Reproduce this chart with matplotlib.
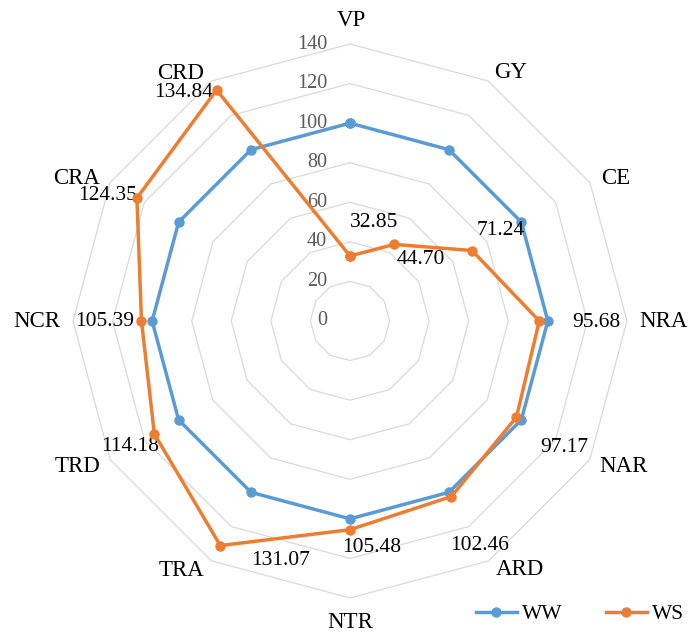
import numpy as np
import matplotlib
matplotlib.use('Agg')
import matplotlib.pyplot as plt

# data
categories = ['VP', 'GY', 'CE', 'NRA', 'NAR', 'ARD', 'NTR', 'TRA', 'TRD', 'NCR', 'CRA', 'CRD']
ww_values = [100, 100, 100, 100, 100, 100, 100, 100, 100, 100, 100, 100]
ws_values = [32.85, 44.70, 71.24, 95.68, 97.17, 102.46, 105.48, 131.07, 114.18, 105.39, 124.35, 134.84]
ring_levels = [20, 40, 60, 80, 100, 120, 140]
radial_ticks = [0, 20, 40, 60, 80, 100, 120, 140]

# label offsets (pixels)
ws_label_offsets = [(24, 33), (27, -15), (29, 20), (57, -2), (48, -30), (28, -49),
                    (22, -18), (60, -15), (-24, -13), (-37, -1), (-29, 2), (-33, -3)]
cat_label_offsets = [(1, 24), (22, 9), (26, 4), (37, -1), (34, -7), (31, -9),
                     (0, -25), (-30, -10), (-33, -7), (-36, -1), (-34, 4), (-31, 8)]

plt.rcParams['font.family'] = ['Liberation Serif', 'DejaVu Serif']

fig = plt.figure(figsize=(6.88, 6.35), dpi=100)
ax = fig.add_axes([0.1061, 0.0583, 0.8052, 0.8724], projection='polar')
ax.set_theta_zero_location('N')
ax.set_theta_direction(-1)
ax.set_ylim(0, 140)
ax.grid(False)
ax.spines['polar'].set_visible(False)
ax.set_xticks([])
ax.set_yticks([])

n = len(categories)
theta = np.linspace(0, 2 * np.pi, n, endpoint=False)
theta_closed = np.append(theta, theta[0])

# polygon grid
for lvl in ring_levels:
    ax.plot(theta_closed, [lvl] * (n + 1), color='#D9D9D9', lw=0.9, zorder=1, clip_on=False)

# radial tick labels
for v in radial_ticks:
    ax.annotate(str(v), xy=(0, v), xytext=(-23, 0), textcoords='offset pixels',
                ha='right', va='center', fontsize=14.5, color='#595959', annotation_clip=False)

blue = '#5B9BD5'
orange = '#ED7D31'
ww_line, = ax.plot(theta_closed, ww_values + ww_values[:1], color=blue, lw=2.5,
                   marker='o', markersize=6.5, label='WW', zorder=3, clip_on=False)
ws_line, = ax.plot(theta_closed, ws_values + ws_values[:1], color=orange, lw=2.5,
                   marker='o', markersize=6.5, label='WS', zorder=4, clip_on=False)

# value labels
for t, v, off in zip(theta, ws_values, ws_label_offsets):
    ax.annotate('%.2f' % v, xy=(t, v), xytext=off, textcoords='offset pixels',
                ha='center', va='center', fontsize=15.5, color='black', annotation_clip=False)

# category labels, placed just outside the outer ring
for t, c, off in zip(theta, categories, cat_label_offsets):
    ax.annotate(c, xy=(t, 140), xytext=off, textcoords='offset pixels',
                ha='center', va='center', fontsize=16.5, color='black', annotation_clip=False)

fig.legend(handles=[ww_line, ws_line], loc='center', bbox_to_anchor=(0.843, 0.033),
           ncol=2, frameon=False, fontsize=15.5, handlelength=1.9,
           handletextpad=0.25, columnspacing=2.0)

fig.savefig('out.png', dpi=100)
